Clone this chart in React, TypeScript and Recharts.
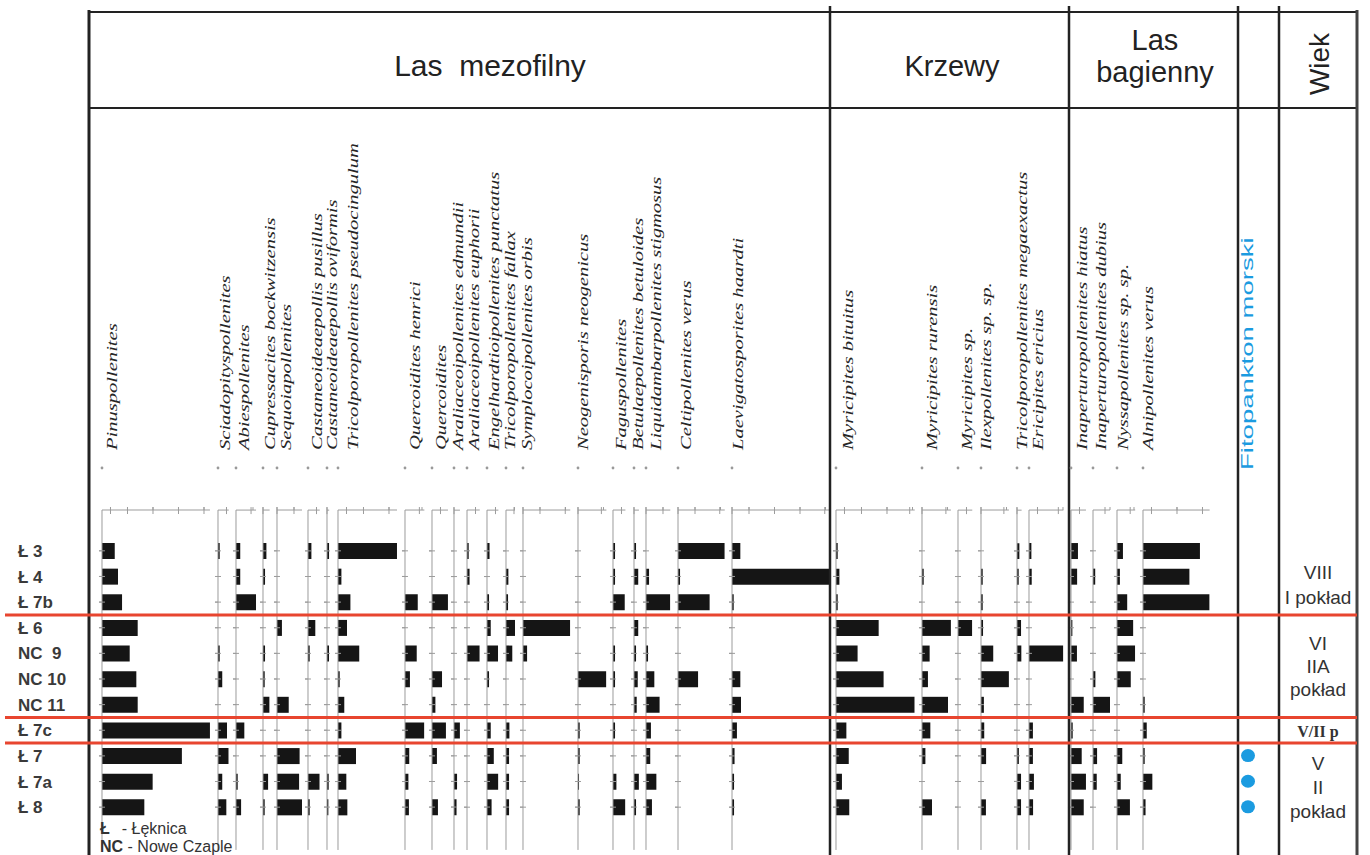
import React from 'react';
import { BarChart, Bar, XAxis, YAxis } from 'recharts';

// samples (rows, top to bottom)
const SAMPLES = ['Ł 3', 'Ł 4', 'Ł 7b', 'Ł 6', 'NC  9', 'NC 10', 'NC 11', 'Ł 7c', 'Ł 7', 'Ł 7a', 'Ł 8'];

const TAXA = [
  'Pinuspollenites',
  'Sciadopityspollenites',
  'Abiespollenites',
  'Cupressacites bockwitzensis',
  'Sequoiapollenites',
  'Castaneoideaepollis pusillus',
  'Castaneoideaepollis oviformis',
  'Tricolporopollenites pseudocingulum',
  'Quercoidites henrici',
  'Quercoidites',
  'Araliaceoipollenites edmundii',
  'Araliaceoipollenites euphorii',
  'Engelhardtioipollenites punctatus',
  'Tricolporopollenites fallax',
  'Symplocoipollenites orbis',
  'Neogenisporis neogenicus',
  'Faguspollenites',
  'Betulaepollenites betuloides',
  'Liquidambarpollenites stigmosus',
  'Celtipollenites verus',
  'Laevigatosporites haardti',
  'Myricipites bituitus',
  'Myricipites rurensis',
  'Myricipites sp.',
  'Ilexpollenites sp. sp.',
  'Tricolporopollenites megaexactus',
  'Ericipites ericius',
  'Inaperturopollenites hiatus',
  'Inaperturopollenites dubius',
  'Nyssapollenites sp. sp.',
  'Alnipollenites verus',
];

// percentages per sample
const pinus = [7.5, 9.4, 11.8, 21, 16.3, 20.2, 21, 63.5, 47, 29.8, 24.9];
const sciadopitys = [1, 0, 0, 0, 1, 2.5, 0, 5.3, 6.3, 2.5, 4.9];
const abies = [2.5, 2.5, 11.8, 0, 0, 0, 0, 4.9, 0, 1, 3];
const cupressacites = [2, 1.2, 0, 0, 1.2, 1, 3.9, 0, 0, 3, 1];
const sequoia = [0, 0, 0, 2.9, 0, 0, 6.9, 0, 13.3, 13, 14.7];
const castPusillus = [2, 0, 0, 4.3, 1, 0, 0, 0, 0, 6.9, 1];
const castOviformis = [1.3, 0, 0, 0, 1.2, 0, 0, 0, 0, 1, 0.8];
const tricPseudocingulum = [34.7, 2, 7.3, 5.3, 12.5, 1, 3.7, 2, 10.6, 4.9, 5.5];
const quercHenrici = [0, 0, 7.5, 0, 6.9, 2.9, 0, 11.4, 2.5, 2, 2.3];
const quercoidites = [0, 0, 9.4, 0, 0, 5.9, 2, 8.2, 2.9, 0, 3.5];
const araliaEdmundii = [0, 0, 0, 0, 0, 0, 0, 3.5, 0, 1.8, 1.5];
const araliaEuphorii = [1, 1.5, 0, 0, 7.5, 0, 0, 0, 0, 0, 0];
const engelhardtia = [1.5, 0, 1.2, 2.2, 6.5, 1.2, 0, 2.2, 4, 6.7, 2.7];
const tricFallax = [0, 1.4, 1.2, 5.3, 3.7, 0, 0, 2, 1.8, 1.8, 1.8];
const symplocos = [0, 0, 0, 27.8, 2.4, 0, 0, 0, 0, 0, 0];
const neogenisporis = [0, 0, 0, 0, 0, 16.7, 0, 1, 1, 0.6, 1];
const fagus = [1.2, 1.2, 6.9, 0, 1.2, 1.2, 0, 1.2, 0, 2, 7.3];
const betula = [1.2, 2.5, 0, 2.5, 1.2, 2.2, 1.6, 0, 0, 2.9, 1.2];
const liquidambar = [0, 1.8, 14.3, 0, 1.2, 4.9, 8, 2.9, 2.5, 6.1, 3.5];
const celtis = [27.5, 1.2, 18.6, 0, 0, 11.8, 0, 0, 0, 0, 0];
const laevigatosporites = [4.9, 57.5, 1, 0, 0, 4.9, 5.3, 2.9, 1.5, 1.2, 1.2];
const myrBituitus = [1, 2, 1, 25.1, 12.7, 28, 46.3, 6.1, 7.5, 3.5, 7.8];
const myrRurensis = [0, 1, 0, 17, 4.5, 3.5, 15.3, 4.9, 2, 0, 5.9];
const myrSp = [0, 0, 0, 8.4, 0, 0, 0, 0, 0, 0, 0];
const ilex = [0, 1, 1, 1.2, 7.2, 16.4, 1.7, 1.9, 3, 0, 2.9];
const tricMegaexactus = [1.4, 1, 0, 2.4, 2.7, 0, 0, 0, 1.1, 2.4, 2.4];
const ericipites = [1.4, 1.6, 0, 0, 20.2, 0, 0, 2.3, 2.3, 2.9, 2.4];
const inapHiatus = [4.1, 3.6, 0, 0.8, 3.5, 0, 7.5, 1, 6.3, 8.8, 7.5];
const inapDubius = [0, 1.3, 0, 0, 0, 1.4, 10, 0, 2.4, 2.2, 0];
const nyssa = [3.5, 1.7, 6, 9.5, 10.7, 8.1, 0, 0, 3.1, 2.2, 7.6];
const alnus = [33.5, 27.3, 39.2, 0, 0, 0, 1, 2.2, 1, 5.5, 1.5];

// marine phytoplankton presence
const fitoplankton = [0, 0, 0, 0, 0, 0, 0, 0, 1, 1, 1];

const SERIES = [
  pinus, sciadopitys, abies, cupressacites, sequoia, castPusillus, castOviformis,
  tricPseudocingulum, quercHenrici, quercoidites, araliaEdmundii, araliaEuphorii,
  engelhardtia, tricFallax, symplocos, neogenisporis, fagus, betula, liquidambar,
  celtis, laevigatosporites, myrBituitus, myrRurensis, myrSp, ilex, tricMegaexactus,
  ericipites, inapHiatus, inapDubius, nyssa, alnus,
];

const GROUPS = ['Las  mezofilny', 'Krzewy'];
const AGE_LABELS = ['VIII', 'I pokład', 'VI', 'IIA', 'pokład', 'V/II p', 'V', 'II', 'pokład'];
const ZONE_BREAKS = [3, 7, 8];

// layout
const COL_X = [102, 218, 236, 263, 277, 308, 327, 338, 405, 432, 454, 467, 487, 506, 523, 578, 613, 634, 646, 678, 732, 836, 922, 958, 981, 1017, 1029, 1071, 1093, 1117, 1143];
const LABEL_X = [112, 225, 244, 270, 286, 317, 332, 353, 415, 441, 458, 474, 494, 510, 527, 583, 621, 638, 656, 686, 738, 848, 932, 967, 986, 1022, 1038, 1082, 1101, 1123, 1148];
const AGE_Y = [572, 597, 643, 666, 689, 731, 763, 787, 811];
const PX = 1.7;
const CHART_TOP = 505;
const CHART_H = 345;
const AXIS_H = 5;
const PAD_TOP = 28;
const PAD_BOTTOM = 30;
const ROW_H = (CHART_H - AXIS_H - PAD_TOP - PAD_BOTTOM) / SAMPLES.length;
const GRID = '#9c9c9c';
const INK = '#222';

// small cross marks: the other half of each tick, so ticks read as "+"
const RowMark = (props: any) => (
  <line x1={props.x} x2={props.x + 6} y1={props.y} y2={props.y} stroke={GRID} strokeWidth={1} />
);
const ScaleMark = (props: any) => (
  <line x1={props.x} x2={props.x} y1={props.y} y2={props.y + 7} stroke={GRID} strokeWidth={1} />
);

const SampleTick = (props: any) => {
  const { x, y, payload } = props;
  return (
    <g>
      <line x1={x} x2={x + 6} y1={y} y2={y} stroke={GRID} strokeWidth={1} />
      <text x={18} y={y} dy="0.36em" fontFamily="'Liberation Sans', Arial, sans-serif" fontWeight="bold" fontSize={17} fill="#3a3a3a" style={{ whiteSpace: 'pre' }}>
        {payload.value}
      </text>
    </g>
  );
};

const TaxonColumn = ({ values, x, withLabels }: { values: number[]; x: number; withLabels?: boolean }) => {
  const max = Math.max(...values);
  const ticks: number[] = [];
  for (let t = 0; t <= max; t += 5) ticks.push(t);
  const data = SAMPLES.map((s, i) => ({ sample: s, value: values[i] }));
  const yw = withLabels ? x : 4;
  const w = yw + max * PX + 3;
  return (
    <div style={{ position: 'absolute', left: x - yw, top: CHART_TOP }}>
      <BarChart width={w} height={CHART_H} data={data} layout="vertical" margin={{ top: 0, right: 3, bottom: 0, left: 0 }}>
        <XAxis
          type="number"
          orientation="top"
          domain={[0, max]}
          ticks={ticks}
          tick={ScaleMark}
          tickSize={3}
          tickMargin={0}
          height={AXIS_H}
          stroke={GRID}
          allowDataOverflow
        />
        <YAxis
          type="category"
          dataKey="sample"
          width={yw}
          interval={0}
          tickSize={3}
          tickMargin={0}
          padding={{ top: PAD_TOP, bottom: PAD_BOTTOM }}
          tick={withLabels ? SampleTick : RowMark}
          stroke={GRID}
        />
        <Bar dataKey="value" fill="#151515" barSize={16} isAnimationActive={false} />
      </BarChart>
    </div>
  );
};

const FitoColumn = () => {
  const data = SAMPLES.map((s, i) => ({ sample: s, value: fitoplankton[i] }));
  return (
    <div style={{ position: 'absolute', left: 1241, top: CHART_TOP }}>
      <BarChart width={14} height={CHART_H} data={data} layout="vertical" margin={{ top: AXIS_H, right: 0, bottom: 0, left: 0 }}>
        <XAxis type="number" domain={[0, 1]} hide />
        <YAxis type="category" dataKey="sample" hide padding={{ top: PAD_TOP, bottom: PAD_BOTTOM }} />
        <Bar
          dataKey="value"
          barSize={13}
          isAnimationActive={false}
          shape={(p: any) =>
            p.payload.value > 0 ? (
              <ellipse cx={p.x + p.width / 2} cy={p.y + p.height / 2} rx={7} ry={6.5} fill="#1b9be0" />
            ) : (
              <g />
            )
          }
        />
      </BarChart>
    </div>
  );
};

const sans = "'Liberation Sans', Arial, sans-serif";

export default function App() {
  const rowTop = CHART_TOP + AXIS_H + PAD_TOP;
  return (
    <div style={{ position: 'absolute', left: 0, top: 0, width: 1370, height: 855, background: '#fff', overflow: 'hidden' }}>
      {SERIES.map((vals, i) => (
        <TaxonColumn key={TAXA[i]} values={vals} x={COL_X[i]} withLabels={i === 0} />
      ))}
      <FitoColumn />
      <svg width={1370} height={855} style={{ position: 'absolute', left: 0, top: 0, pointerEvents: 'none' }}>
        {/* frame */}
        <line x1={89} y1={10} x2={89} y2={855} stroke={INK} strokeWidth={3} />
        <line x1={89} y1={12} x2={1357} y2={12} stroke={INK} strokeWidth={2} />
        <line x1={89} y1={108} x2={1357} y2={108} stroke={INK} strokeWidth={2} />
        {[830, 1069, 1238, 1279].map((x) => (
          <line key={x} x1={x} y1={6} x2={x} y2={855} stroke={INK} strokeWidth={2.5} />
        ))}
        <line x1={1357} y1={10} x2={1357} y2={855} stroke="#444" strokeWidth={3} />

        {/* zone lines */}
        {ZONE_BREAKS.map((k) => (
          <line key={k} x1={5} y1={rowTop + k * ROW_H} x2={1357} y2={rowTop + k * ROW_H} stroke="#e8452f" strokeWidth={3} />
        ))}

        {/* group headers */}
        <text x={490} y={76} textAnchor="middle" fontFamily={sans} fontSize={30} fill={INK} style={{ whiteSpace: 'pre' }}>{GROUPS[0]}</text>
        <text x={952} y={76} textAnchor="middle" fontFamily={sans} fontSize={29} fill={INK}>{GROUPS[1]}</text>
        <text x={1155} y={50} textAnchor="middle" fontFamily={sans} fontSize={29} fill={INK}>Las</text>
        <text x={1155} y={82} textAnchor="middle" fontFamily={sans} fontSize={29} fill={INK}>bagienny</text>
        <text transform="translate(1329,64) rotate(-90)" textAnchor="middle" fontFamily={sans} fontSize={28} fill={INK}>Wiek</text>

        {/* taxon names */}
        {TAXA.map((name, i) => (
          <text
            key={name}
            transform={`translate(${LABEL_X[i] + 4.5},450) rotate(-90) scale(1.37,1)`}
            fontFamily="'Liberation Serif', 'Times New Roman', serif"
            fontStyle="italic"
            fontSize={15}
            fill="#262626"
          >
            {name}
          </text>
        ))}
        {COL_X.map((x) => (
          <circle key={x} cx={x} cy={468} r={1.4} fill="#999" />
        ))}

        <text transform="translate(1253,470) rotate(-90) scale(1.62,1)" fontFamily={sans} fontSize={17} fill="#1b9be0">
          Fitopankton morski
        </text>

        {/* age column */}
        {AGE_LABELS.map((t, i) => (
          <text
            key={i}
            x={1318}
            y={AGE_Y[i]}
            dy="0.36em"
            textAnchor="middle"
            fontFamily={t === 'V/II p' ? "'Liberation Serif', serif" : sans}
            fontWeight={t === 'V/II p' ? 'bold' : 'normal'}
            fontSize={t === 'V/II p' ? 16 : 19}
            fill="#333"
          >
            {t}
          </text>
        ))}

        {/* legend */}
        <text x={100} y={834} fontFamily={sans} fontSize={16} fill="#333" style={{ whiteSpace: 'pre' }}>
          <tspan fontWeight="bold">Ł</tspan>
          <tspan dx={12}>- Łęknica</tspan>
        </text>
        <text x={100} y={852} fontFamily={sans} fontSize={16} fill="#333">
          <tspan fontWeight="bold">NC</tspan>
          <tspan> - Nowe Czaple</tspan>
        </text>
      </svg>
    </div>
  );
}
